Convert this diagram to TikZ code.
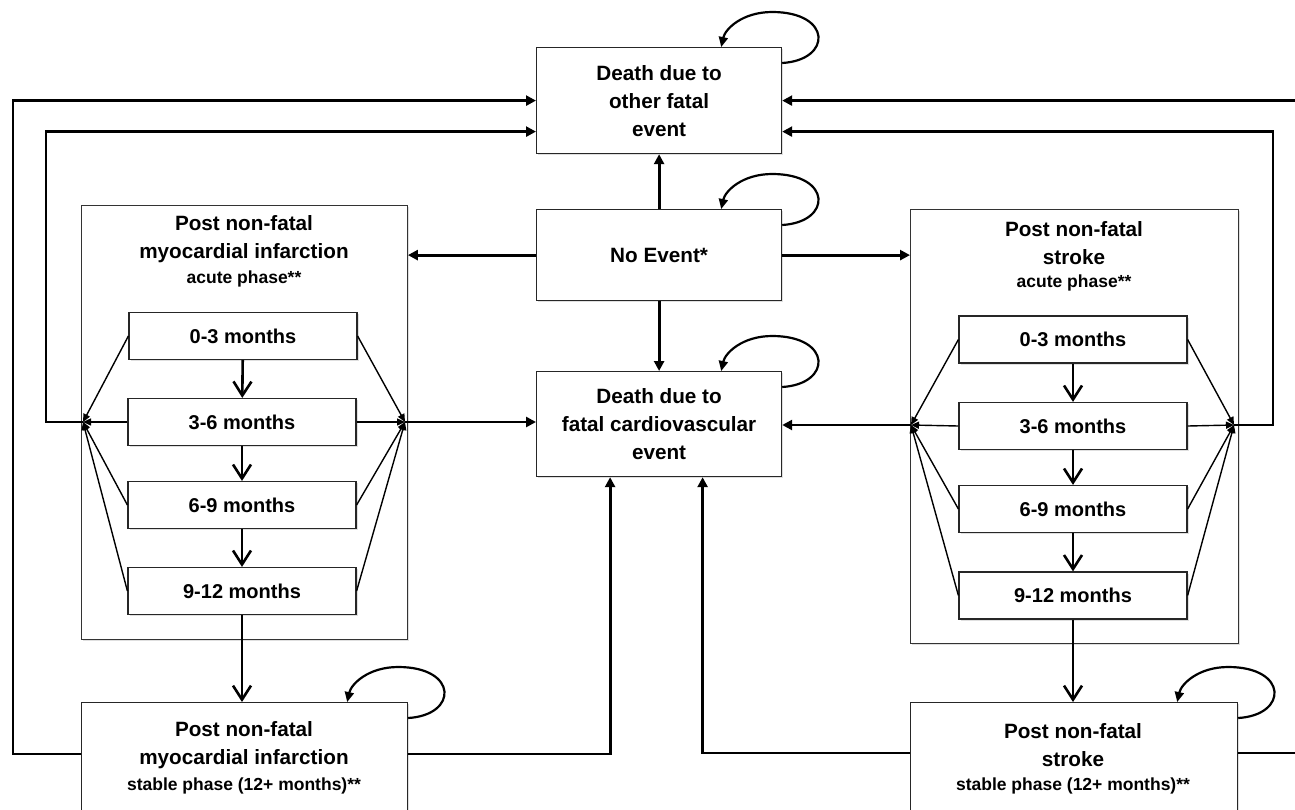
\documentclass[tikz,border=0pt]{standalone}
\usepackage{fontspec}
\setmainfont{Liberation Sans}
\usetikzlibrary{arrows.meta,calc,shadows}
\newcommand{\selfloop}[1]{\draw[loopar] ($(#1.north east)+(0,16)$) .. controls ($(#1.north east)+(50,13)$) and ($(#1.north east)+(50,-35)$) .. ($(#1.north east)+(-10,-35)$) .. controls ($(#1.north east)+(-40,-35)$) and ($(#1.north east)+(-57,-18)$) .. ($(#1.north east)+(-61,0)$);}
\begin{document}
\begin{tikzpicture}[x=1pt,y=-1pt,
  shad/.style={drop shadow={opacity=0.25,shadow xshift=1.5pt,shadow yshift=-1.5pt}},
  box/.style={draw=black!85,line width=1.2pt,fill=white,shad,inner sep=0pt,align=center,anchor=north west,font=\bfseries\fontsize{20.7}{28}\selectfont},
  outerbox/.style={draw=black!80,line width=0.9pt,fill=white,shad,inner sep=0pt,anchor=north west},
  sub/.style={draw=black!85,line width=1.2pt,fill=white,shad,inner sep=0pt,minimum width=228pt,minimum height=47pt,font=\bfseries\fontsize{20}{24}\selectfont},
  ttl/.style={align=center,inner sep=0pt,font=\bfseries\fontsize{20.7}{28}\selectfont},
  subt/.style={align=center,inner sep=0pt,font=\bfseries\fontsize{17.5}{20}\selectfont},
  main/.style={line width=2.8pt,line join=miter,-{Triangle[length=10pt,width=10pt]}},
  diag/.style={line width=1.4pt,-{Triangle[length=8pt,width=7pt]}},
  vee/.style={line width=2.6pt,-{Straight Barb[length=14pt,width=18pt]}},
  loopar/.style={line width=2.2pt,-{Triangle[length=10pt,width=9pt]}}]
\useasboundingbox (0,0) rectangle (1295,809);
\clip (0,0) rectangle (1295,809);

% main boxes
\node[box,minimum width=245pt,minimum height=106pt] (top) at (536,47) {Death due to\\other fatal\\event};
\node[box,minimum width=245pt,minimum height=91pt] (noev) at (536,209) {No Event*};
\node[box,minimum width=245pt,minimum height=105pt] (cv) at (536,371) {Death due to\\fatal cardiovascular\\event};

% acute phase containers
\node[outerbox,minimum width=326pt,minimum height=434pt] (mia) at (81,205) {};
\node[outerbox,minimum width=328pt,minimum height=434pt] (sta) at (910,209) {};
\node[ttl] (miat) at (244,239) {Post non-fatal\\myocardial infarction};
\node[subt] (mias) at (244,279) {acute phase**};
\node[ttl] (stat) at (1074,243) {Post non-fatal\\stroke};
\node[subt] (stas) at (1074,283) {acute phase**};

% stable phase boxes
\node[box,minimum width=326pt,minimum height=130pt] (mis) at (81,702) {};
\node[box,minimum width=327pt,minimum height=130pt] (sts) at (910,702) {};
\node[ttl] (mist) at (244,745) {Post non-fatal\\myocardial infarction};
\node[subt] (miss) at (244,786) {stable phase (12+ months)**};
\node[ttl] (stst) at (1073,745) {Post non-fatal\\stroke};
\node[subt] (stss) at (1073,786) {stable phase (12+ months)**};

% sub boxes
\node[sub] (m1) at (243,336) {0-3 months};
\node[sub] (m2) at (242,422) {3-6 months};
\node[sub] (m3) at (242,505) {6-9 months};
\node[sub] (m4) at (242,591) {9-12 months};
\node[sub] (s1) at (1073,339.5) {0-3 months};
\node[sub] (s2) at (1073,426) {3-6 months};
\node[sub] (s3) at (1073,509) {6-9 months};
\node[sub] (s4) at (1073,595.5) {9-12 months};

% convergence points
\coordinate (ml) at (83,422);
\coordinate (mr) at (405,422);
\coordinate (sl) at (911,425);
\coordinate (sr) at (1234,425);

% internal arrows
\draw[vee] (m1) -- (m2);
\draw[vee] (m2) -- (m3);
\draw[vee] (m3) -- (m4);
\draw[vee] (m4.south) -- (m4.south |- mis.north);
\draw[vee] (s1) -- (s2);
\draw[vee] (s2) -- (s3);
\draw[vee] (s3) -- (s4);
\draw[vee] (s4.south) -- (s4.south |- sts.north);

\foreach \n in {m1,m2,m3,m4} {\draw[diag] (\n.west) -- (ml); \draw[diag] (\n.east) -- (mr);}
\foreach \n in {s1,s2,s3,s4} {\draw[diag] (\n.west) -- (sl); \draw[diag] (\n.east) -- (sr);}

% main connectors
\draw[main] (noev) -- (top);
\draw[main] (noev) -- (cv);
\draw[main] (noev.west) -- (noev.west -| mia.east);
\draw[main] (noev.east) -- (noev.east -| sta.west);
\draw[main] (mr) -- (mr -| cv.west);
\draw[main] (sl) -- (sl -| cv.east);
\draw[main] (ml) -- ++(-37,0) |- ([yshift=-31pt]top.west);
\draw[main] (sr) -- ++(39,0) |- ([yshift=-31pt]top.east);
\draw[main] ([yshift=-52pt]mis.north west) -- ++(-68,0) |- (top.west);
\draw[main] ([yshift=-52pt]mis.north east) -| ([xshift=-49pt]cv.south);
\draw[main] ([yshift=-51pt]sts.north west) -| ([xshift=43.5pt]cv.south);
\draw[main] ([yshift=-51pt]sts.north east) -- ++(80,0) |- (top.east);

% self loops
\selfloop{top}
\selfloop{noev}
\selfloop{cv}
\selfloop{mis}
\selfloop{sts}
\end{tikzpicture}
\end{document}
